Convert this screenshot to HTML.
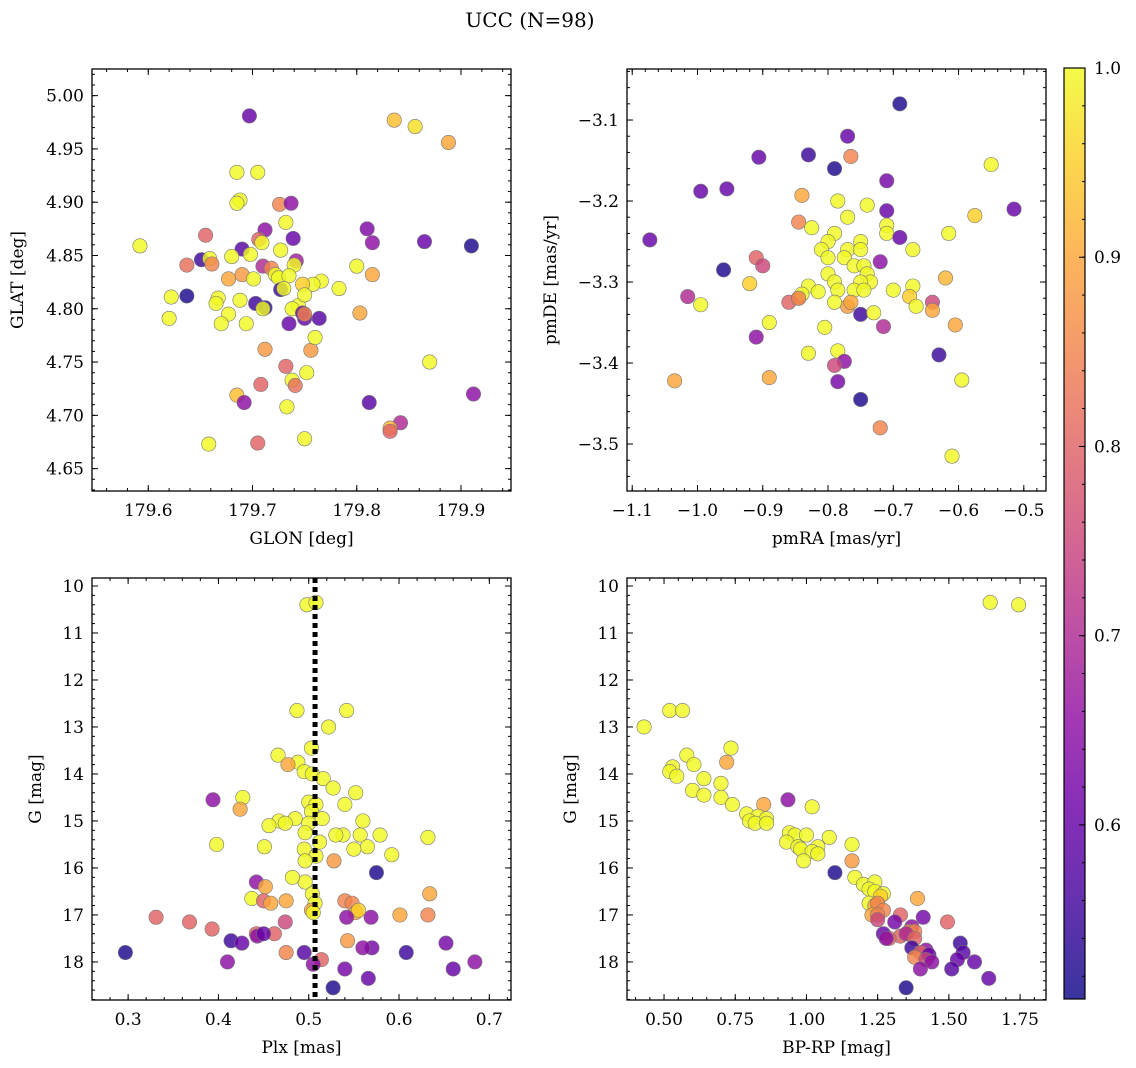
<!DOCTYPE html>
<html><head><meta charset="utf-8"><style>
body{margin:0;background:#fff;}
svg{display:block;font-family:"DejaVu Serif","Liberation Serif",serif;}
</style></head><body>
<svg id="fig" width="1136" height="1068" xmlns="http://www.w3.org/2000/svg">
<defs><linearGradient id="cbg" x1="0" y1="1" x2="0" y2="0">
<stop offset="0" stop-color="#0d0887"/><stop offset="0.1" stop-color="#41049d"/><stop offset="0.2" stop-color="#6a00a8"/><stop offset="0.3" stop-color="#8f0da4"/><stop offset="0.4" stop-color="#b12a90"/><stop offset="0.5" stop-color="#cc4778"/><stop offset="0.6" stop-color="#e16462"/><stop offset="0.7" stop-color="#f2844b"/><stop offset="0.8" stop-color="#fca636"/><stop offset="0.9" stop-color="#fcce25"/><stop offset="1" stop-color="#f0f921"/>
</linearGradient></defs>
<text x="530" y="27" text-anchor="middle" font-size="20">UCC (N=98)</text>
</svg>
<script>
const glon=[179.697,179.836,179.856,179.888,179.685,179.705,179.688,179.685,179.726,179.737,179.732,179.592,179.910,179.865,179.810,179.815,179.739,179.712,179.706,179.709,179.690,179.727,179.655,179.651,179.659,179.680,179.698,179.637,179.661,179.742,179.740,179.710,179.718,179.722,179.725,179.735,179.677,179.690,179.701,179.766,179.758,179.748,179.783,179.800,179.815,179.622,179.637,179.667,179.665,179.688,179.703,179.712,179.710,179.727,179.730,179.744,179.750,179.738,179.620,179.677,179.670,179.694,179.735,179.750,179.764,179.748,179.750,179.803,179.712,179.732,179.756,179.760,179.870,179.752,179.738,179.741,179.685,179.708,179.692,179.733,179.812,179.912,179.842,179.832,179.832,179.658,179.705,179.750];
const glat=[4.981,4.977,4.971,4.956,4.928,4.928,4.902,4.899,4.898,4.899,4.881,4.859,4.859,4.863,4.875,4.862,4.866,4.874,4.865,4.862,4.856,4.855,4.869,4.846,4.847,4.849,4.851,4.841,4.842,4.845,4.841,4.840,4.838,4.832,4.829,4.831,4.828,4.832,4.828,4.826,4.823,4.823,4.819,4.840,4.832,4.811,4.812,4.810,4.805,4.808,4.805,4.801,4.800,4.818,4.819,4.803,4.813,4.800,4.791,4.795,4.786,4.786,4.786,4.791,4.791,4.796,4.795,4.796,4.762,4.746,4.761,4.773,4.750,4.740,4.733,4.728,4.719,4.729,4.712,4.708,4.712,4.720,4.693,4.688,4.685,4.673,4.674,4.678];
const c1=[0.6,0.93,0.97,0.9,1,1,1,1,0.85,0.65,1,1,0.52,0.6,0.63,0.65,0.6,0.65,0.8,1,0.58,1,0.8,0.55,1,1,1,0.82,0.85,0.68,1,0.7,0.85,1,1,1,0.9,0.88,1,1,1,0.95,1,1,0.9,1,0.52,1,1,1,0.55,0.53,1,0.55,1,1,1,1,1,1,1,1,0.6,0.6,0.58,0.6,0.85,0.9,0.88,0.8,0.88,1,1,1,1,0.82,0.93,0.8,0.65,1,0.58,0.65,0.7,0.92,0.8,1,0.8,1];
const pmra=[-0.69,-0.77,-0.906,-0.83,-0.765,-0.79,-0.55,-0.955,-0.995,-0.71,-0.84,-0.785,-0.74,-0.71,-0.575,-0.515,-0.77,-0.845,-0.825,-0.71,-0.71,-0.69,-0.615,-0.79,-1.073,-0.8,-0.75,-0.81,-0.77,-0.75,-0.67,-0.96,-0.91,-0.9,-0.8,-0.775,-0.72,-0.76,-0.745,-0.8,-0.74,-0.735,-0.75,-0.79,-0.62,-0.67,-0.92,-0.83,-1.015,-0.845,-0.84,-0.815,-0.785,-0.76,-0.745,-0.7,-0.675,-0.665,-0.86,-0.845,-0.77,-0.765,-0.79,-0.75,-0.73,-0.64,-0.64,-0.995,-0.89,-0.805,-0.715,-0.605,-0.91,-0.83,-0.785,-0.775,-0.79,-0.63,-0.89,-1.035,-0.785,-0.595,-0.75,-0.72,-0.61];
const pmde=[-3.08,-3.12,-3.146,-3.143,-3.145,-3.16,-3.155,-3.185,-3.188,-3.175,-3.193,-3.2,-3.205,-3.212,-3.218,-3.21,-3.22,-3.226,-3.233,-3.23,-3.24,-3.245,-3.24,-3.24,-3.248,-3.25,-3.25,-3.26,-3.26,-3.26,-3.26,-3.285,-3.27,-3.28,-3.27,-3.27,-3.275,-3.28,-3.28,-3.29,-3.29,-3.3,-3.3,-3.3,-3.295,-3.305,-3.302,-3.305,-3.318,-3.32,-3.315,-3.312,-3.31,-3.31,-3.31,-3.31,-3.318,-3.33,-3.325,-3.32,-3.33,-3.325,-3.325,-3.34,-3.338,-3.325,-3.335,-3.328,-3.35,-3.356,-3.355,-3.353,-3.368,-3.388,-3.385,-3.398,-3.403,-3.39,-3.418,-3.422,-3.423,-3.421,-3.445,-3.48,-3.515];
const c2=[0.52,0.6,0.6,0.55,0.85,0.52,1,0.6,0.6,0.62,0.9,1,1,0.6,0.95,0.6,1,0.85,1,1,1,0.6,1,1,0.6,1,1,1,1,1,1,0.52,0.8,0.75,1,1,0.65,1,1,1,1,1,1,1,0.92,1,0.95,1,0.7,0.85,1,1,1,1,1,1,0.95,1,0.8,0.85,0.88,0.9,1,0.55,1,0.75,0.9,1,1,1,0.7,0.9,0.65,1,1,0.65,0.75,0.55,0.9,0.9,0.62,1,0.52,0.85,1];
const plx=[0.498,0.508,0.487,0.542,0.522,0.503,0.466,0.488,0.477,0.495,0.504,0.516,0.527,0.552,0.427,0.394,0.50,0.508,0.54,0.424,0.503,0.515,0.485,0.467,0.474,0.456,0.50,0.496,0.538,0.53,0.557,0.579,0.398,0.512,0.565,0.451,0.495,0.55,0.508,0.592,0.528,0.496,0.632,0.56,0.575,0.442,0.496,0.482,0.452,0.437,0.504,0.475,0.634,0.507,0.45,0.458,0.54,0.548,0.552,0.555,0.503,0.505,0.601,0.632,0.569,0.542,0.331,0.368,0.474,0.393,0.442,0.462,0.443,0.45,0.414,0.426,0.543,0.652,0.57,0.56,0.475,0.608,0.297,0.495,0.514,0.41,0.684,0.505,0.54,0.66,0.566,0.527];
const g3=[10.4,10.35,12.65,12.65,13.0,13.45,13.6,13.75,13.8,13.95,14.0,14.1,14.3,14.4,14.5,14.55,14.6,14.65,14.65,14.75,14.8,14.95,14.95,15.0,15.05,15.1,15.05,15.25,15.3,15.3,15.3,15.3,15.5,15.45,15.55,15.55,15.6,15.6,15.75,15.72,15.85,15.85,15.35,15.0,16.1,16.3,16.3,16.2,16.4,16.65,16.55,16.7,16.55,16.75,16.7,16.75,16.7,16.75,16.95,16.9,16.9,16.95,17.0,17.0,17.05,17.05,17.05,17.15,17.15,17.3,17.4,17.4,17.45,17.4,17.55,17.6,17.55,17.6,17.7,17.7,17.8,17.8,17.8,17.8,17.95,18.0,18.0,18.05,18.15,18.15,18.35,18.55];
const c3=[1,1,1,1,1,1,1,1,0.9,1,1,1,1,1,1,0.65,1,1,1,0.9,1,1,1,1,1,1,1,1,1,1,1,1,1,1,1,1,1,1,1,1,0.88,1,1,1,0.52,0.65,1,1,0.9,1,1,0.9,0.9,1,0.8,0.9,0.85,0.85,0.9,0.95,0.9,1,0.9,0.85,0.65,0.65,0.8,0.8,0.75,0.8,0.8,0.8,0.65,0.6,0.55,0.6,0.88,0.62,0.62,0.65,0.85,0.55,0.52,0.58,0.8,0.65,0.65,0.65,0.62,0.6,0.6,0.52];
const bprp=[1.645,1.745,0.43,0.52,0.565,0.735,0.58,0.72,0.605,0.53,0.52,0.545,0.64,0.70,0.60,0.64,0.70,0.935,0.74,0.85,1.02,0.79,0.83,0.86,0.80,0.82,0.86,0.94,0.96,1.0,1.08,0.93,0.97,1.04,1.16,0.98,1.02,1.04,0.99,1.16,1.10,1.17,1.20,1.24,1.22,1.24,1.27,1.26,1.39,1.22,1.24,1.25,1.27,1.23,1.25,1.33,1.41,1.25,1.495,1.31,1.37,1.36,1.38,1.27,1.33,1.35,1.29,1.38,1.28,1.54,1.37,1.42,1.40,1.43,1.55,1.38,1.42,1.59,1.53,1.44,1.40,1.51,1.64,1.35];
const g4=[10.35,10.4,13.0,12.65,12.65,13.45,13.6,13.75,13.8,13.85,13.95,14.05,14.1,14.2,14.35,14.45,14.5,14.55,14.65,14.65,14.7,14.85,14.9,14.95,15.0,15.05,15.05,15.25,15.3,15.3,15.35,15.45,15.55,15.55,15.5,15.6,15.65,15.7,15.85,15.85,16.1,16.2,16.35,16.3,16.45,16.5,16.55,16.6,16.65,16.75,16.8,16.75,16.9,17.0,17.0,17.0,17.05,17.1,17.15,17.15,17.25,17.35,17.35,17.4,17.45,17.4,17.5,17.5,17.5,17.6,17.7,17.75,17.8,17.85,17.8,17.9,17.95,18.0,17.95,18.0,18.15,18.15,18.35,18.55];
const c4=[1,1,1,1,1,1,1,0.9,1,1,1,1,1,1,1,1,1,0.65,1,0.9,1,1,1,1,1,1,1,1,1,1,1,1,1,1,1,1,1,1,1,0.88,0.52,1,1,1,1,1,1,0.95,0.9,1,0.9,0.85,0.85,0.9,0.85,0.8,0.62,0.75,0.8,0.62,0.65,0.85,0.85,0.6,0.8,0.7,0.8,0.8,0.65,0.55,0.55,0.65,0.8,0.6,0.58,0.85,0.75,0.6,0.6,0.65,0.65,0.58,0.6,0.52];
const vlinePlx=0.507;

const NS="http://www.w3.org/2000/svg";
const svg=document.getElementById('fig');
const stops=[[13,8,135],[65,4,157],[106,0,168],[143,13,164],[177,42,144],[204,71,120],[225,100,98],[242,132,75],[252,166,54],[252,206,37],[240,249,33]];
const VMIN=0.508,VMAX=1.0;
function cmap(v){let t=Math.max(0,Math.min(1,(v-VMIN)/(VMAX-VMIN)))*10;let i=Math.min(9,Math.floor(t));let f=t-i;const a=stops[i],b=stops[i+1];return `rgb(${a.map((x,k)=>Math.round(x+(b[k]-x)*f)).join(',')})`;}
function el(tag,attrs,parent){const e=document.createElementNS(NS,tag);for(const k in attrs)e.setAttribute(k,attrs[k]);(parent||svg).appendChild(e);return e;}
function fmt(v,d){return (v<0?'\u2212':'')+Math.abs(v).toFixed(d);}

function panel(o){
  const {L,T,R,B,xlim,ylim,xt,yt,xm,ym,xd,yd,xlab,ylab,xs,ys,cs,name,inv}=o;
  const g=el('g',{});
  
  
  const X=v=>L+(v-xlim[0])/(xlim[1]-xlim[0])*(R-L);
  const Y=v=>inv? T+(v-ylim[0])/(ylim[1]-ylim[0])*(B-T) : B-(v-ylim[0])/(ylim[1]-ylim[0])*(B-T);
  const cg=el('g',{},g);
  
  
  for(let i=0;i<xs.length;i++){
    const c=el('circle',{cx:X(xs[i]),cy:Y(ys[i]),r:7.2,fill:cmap(cs[i]),'fill-opacity':0.82,stroke:'#777','stroke-width':0.6},cg);
    
    
  }
  if(o.vline!==undefined){
    const ln=el('line',{x1:X(o.vline),x2:X(o.vline),y1:T,y2:B,stroke:'#000','stroke-width':5,'stroke-dasharray':'5,4'},g);
    
    
  }
  const fr=el('rect',{x:L,y:T,width:R-L,height:B-T,fill:'none',stroke:'#000','stroke-width':1.3},g);
  
  
  const tk=el('g',{stroke:'#000','stroke-width':1},g);
  for(let v=Math.ceil(xlim[0]/xm-1e-6)*xm;v<=xlim[1]+1e-9;v+=xm){const x=X(v);el('line',{x1:x,x2:x,y1:B,y2:B-3},tk);el('line',{x1:x,x2:x,y1:T,y2:T+3},tk);}
  for(let v=Math.ceil(ylim[0]/ym-1e-6)*ym;v<=ylim[1]+1e-9;v+=ym){const y=Y(v);el('line',{x1:L,x2:L+3,y1:y,y2:y},tk);el('line',{x1:R,x2:R-3,y1:y,y2:y},tk);}
  xt.forEach(v=>{const x=X(v);el('line',{x1:x,x2:x,y1:B,y2:B-6},tk);el('line',{x1:x,x2:x,y1:T,y2:T+6},tk);
    const t=el('text',{x:x,y:B+25,'text-anchor':'middle','font-size':17},g);t.textContent=fmt(v,xd);
    });
  yt.forEach(v=>{const y=Y(v);el('line',{x1:L,x2:L+6,y1:y,y2:y},tk);el('line',{x1:R,x2:R-6,y1:y,y2:y},tk);
    const t=el('text',{x:L-8,y:y+6,'text-anchor':'end','font-size':17},g);t.textContent=fmt(v,yd);
    });
  const xl=el('text',{x:(L+R)/2,y:B+53,'text-anchor':'middle','font-size':17},g);xl.textContent=xlab;
  
  const yx=o.ylx, yy=(T+B)/2;
  const yl=el('text',{x:yx,y:yy,'text-anchor':'middle','font-size':17,transform:`rotate(-90 ${yx} ${yy})`},g);yl.textContent=ylab;
  
}
const r=(a,b,s)=>{const o=[];for(let i=0;a+i*s<=b+1e-9;i++)o.push(+(a+i*s).toFixed(4));return o;};
panel({name:'glon-glat-panel',L:92,T:69,R:511,B:491,xlim:[179.546,179.948],ylim:[4.629,5.025],xt:r(179.6,179.9,0.1),yt:r(4.65,5.0,0.05),xm:0.02,ym:0.01,xd:1,yd:2,xlab:'GLON [deg]',ylab:'GLAT [deg]',xs:glon,ys:glat,cs:c1,ylx:23});
panel({name:'proper-motion-panel',L:627,T:69,R:1046,B:491,xlim:[-1.108,-0.466],ylim:[-3.558,-3.037],xt:r(-1.1,-0.5,0.1),yt:r(-3.5,-3.1,0.1),xm:0.02,ym:0.02,xd:1,yd:1,xlab:'pmRA [mas/yr]',ylab:'pmDE [mas/yr]',xs:pmra,ys:pmde,cs:c2,ylx:556});
panel({name:'plx-g-panel',L:92,T:578,R:511,B:1000,xlim:[0.260,0.724],ylim:[9.83,18.81],inv:true,xt:r(0.3,0.7,0.1),yt:r(10,18,1),xm:0.02,ym:0.2,xd:1,yd:0,xlab:'Plx [mas]',ylab:'G [mag]',xs:plx,ys:g3,cs:c3,ylx:41,vline:vlinePlx});
panel({name:'cmd-panel',L:627,T:578,R:1046,B:1000,xlim:[0.370,1.841],ylim:[9.83,18.81],inv:true,xt:r(0.5,1.75,0.25),yt:r(10,18,1),xm:0.05,ym:0.2,xd:2,yd:0,xlab:'BP-RP [mag]',ylab:'G [mag]',xs:bprp,ys:g4,cs:c4,ylx:576});
const cb=el('g',{});


el('rect',{x:1064,y:68,width:21,height:931,fill:'url(#cbg)','fill-opacity':0.82,stroke:'#000','stroke-width':1.2},cb);
const CY=v=>999-(v-VMIN)/(VMAX-VMIN)*931;
for(let v=0.52;v<=1.0001;v+=0.02){const y=CY(v);el('line',{x1:1085,x2:1082,y1:y,y2:y,stroke:'#000'},cb);}
[0.6,0.7,0.8,0.9,1.0].forEach(v=>{const y=CY(v);el('line',{x1:1085,x2:1079,y1:y,y2:y,stroke:'#000'},cb);
  const t=el('text',{x:1094,y:y+6,'font-size':17},cb);t.textContent=v.toFixed(1);
  });
</script>
</body></html>
